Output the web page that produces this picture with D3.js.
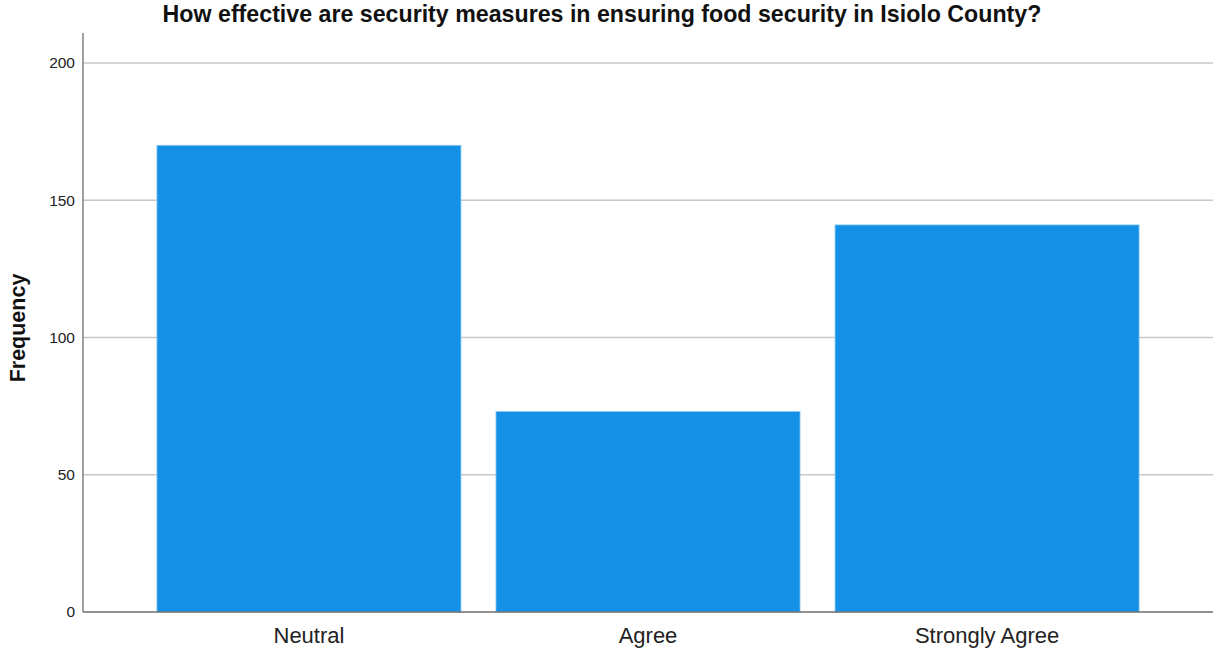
<!DOCTYPE html>
<html><head><meta charset="utf-8">
<script src="https://cdn.jsdelivr.net/npm/d3@7"></script>
<style>body{margin:0;background:#fff;} svg{display:block;}</style>
</head><body>
<script>
const categories = ["Neutral", "Agree", "Strongly Agree"];
const frequencies = [170, 73, 141];
const yTicks = [0, 50, 100, 150, 200];
const title = "How effective are security measures in ensuring food security in Isiolo County?";
const yLabel = "Frequency";

const W = 1216, H = 651;
const m = {left: 83, right: 3, top: 33, bottom: 39};
const svg = d3.select("body").append("svg").attr("width", W).attr("height", H);

const x = d3.scaleBand().domain(categories).range([m.left, W - m.right])
  .paddingInner(35/339).paddingOuter(0.218);
const y = d3.scaleLinear().domain([0, 210.9]).range([H - m.bottom, m.top]);

// gridlines
svg.append("g").selectAll("line").data(yTicks.filter(d => d > 0)).join("line")
  .attr("x1", m.left).attr("x2", W - m.right)
  .attr("y1", d => y(d)).attr("y2", d => y(d))
  .attr("stroke", "#c8c8c8").attr("stroke-width", 1.5);

// bars
svg.append("g").selectAll("rect").data(frequencies).join("rect")
  .attr("x", (d, i) => x(categories[i]))
  .attr("width", x.bandwidth())
  .attr("y", d => y(d))
  .attr("height", d => y(0) - y(d))
  .attr("fill", "#1491e6")
  .attr("stroke", "#8ccaf2").attr("stroke-width", 0.8);

// y axis
const ya = svg.append("g").attr("transform", `translate(${m.left},0)`)
  .call(d3.axisLeft(y).tickValues(yTicks).tickSize(0).tickPadding(8));
ya.select(".domain").remove();
ya.selectAll("text").attr("font-family", "Arial, Liberation Sans, sans-serif")
  .attr("font-size", 15.5).attr("fill", "#222");
svg.append("line").attr("x1", m.left).attr("x2", m.left)
  .attr("y1", m.top).attr("y2", y(0)).attr("stroke", "#6e6e6e").attr("stroke-width", 1.3);

// x axis
const xa = svg.append("g").attr("transform", `translate(0,${y(0)})`)
  .call(d3.axisBottom(x).tickSize(0).tickPadding(15));
xa.select(".domain").remove();
xa.selectAll("text").attr("font-family", "Arial, Liberation Sans, sans-serif")
  .attr("font-size", 22).attr("fill", "#222");
svg.append("line").attr("x1", m.left).attr("x2", W - m.right)
  .attr("y1", y(0)).attr("y2", y(0)).attr("stroke", "#6e6e6e").attr("stroke-width", 1.3);

// title
svg.append("text").attr("x", 602).attr("y", 22).attr("text-anchor", "middle")
  .attr("font-family", "Arial, Liberation Sans, sans-serif").attr("font-weight", "bold")
  .attr("font-size", 23.2).attr("fill", "#111").text(title);

// y label
svg.append("text").attr("transform", `translate(25,${328}) rotate(-90)`)
  .attr("text-anchor", "middle")
  .attr("font-family", "Arial, Liberation Sans, sans-serif").attr("font-weight", "bold")
  .attr("font-size", 21.5).attr("fill", "#111").text(yLabel);
</script>
</body></html>
